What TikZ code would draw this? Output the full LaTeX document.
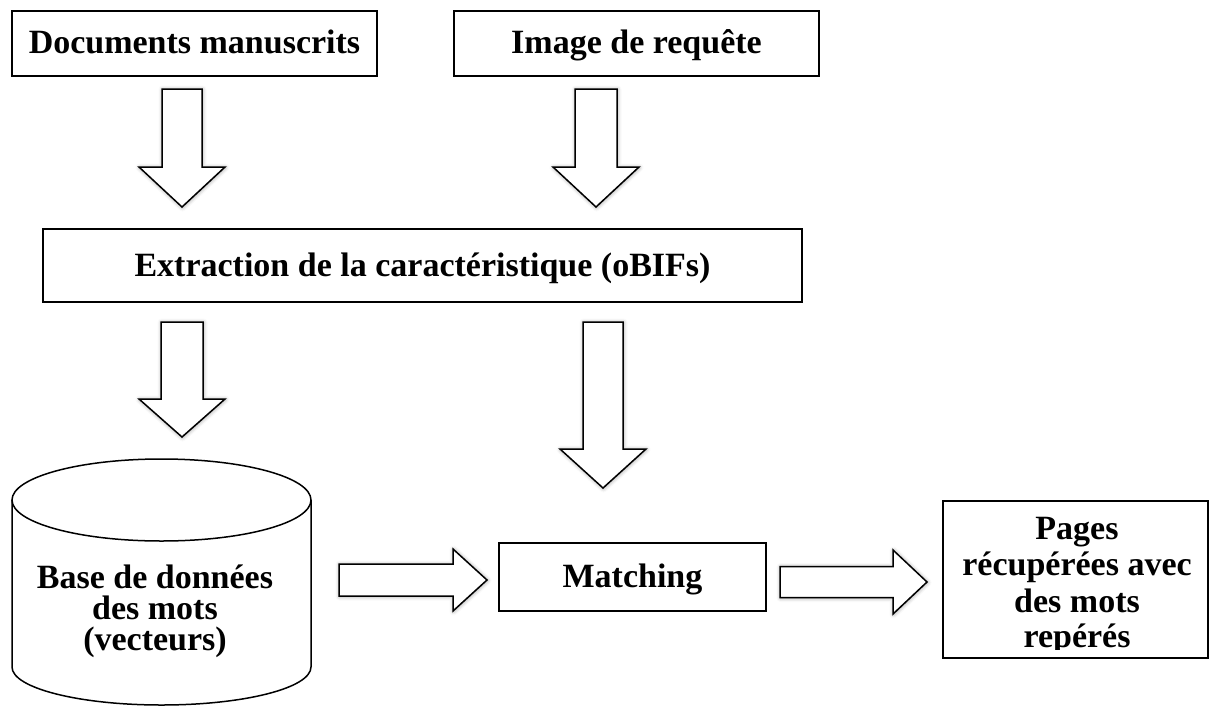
\documentclass[tikz,border=0pt]{standalone}
\usepackage{fontspec}
\setmainfont{Liberation Serif}
\usetikzlibrary{shadows.blur}
\newcommand\DArrow[6]{\draw[barrow] (#1-#5,#2) -- (#1+#5,#2) -- (#1+#5,#3) -- (#1+#6,#3) -- (#1,#4) -- (#1-#6,#3) -- (#1-#5,#3) -- cycle;}
\newcommand\RArrow[6]{\draw[barrow] (#2,#1-#5) -- (#3,#1-#5) -- (#3,#1-#6) -- (#4,#1) -- (#3,#1+#6) -- (#3,#1+#5) -- (#2,#1+#5) -- cycle;}
\begin{document}
\begin{tikzpicture}[x=1pt,y=-1pt,
  txt/.style={font=\fontsize{34}{30}\selectfont\bfseries,inner sep=0pt},
  line/.style={txt,anchor=base,text height=21pt,text depth=5pt},
  box/.style={draw,line width=1.5pt,txt,text height=22pt,text depth=1pt},
  cyl/.style={draw,line width=1.5pt,fill=white},
  barrow/.style={draw,line width=1.5pt,fill=white,line join=miter,
    blur shadow={shadow xshift=0.5pt,shadow yshift=-0.5pt,shadow blur radius=4pt,shadow opacity=40}}]
\useasboundingbox (0,0) rectangle (1209,709);

% boxes
\node[box,minimum width=365pt,minimum height=65pt] (docs) at (194.5,43.5) {Documents manuscrits};
\node[box,minimum width=365pt,minimum height=65pt] (query) at (636.5,43.5) {Image de requête};
\node[box,minimum width=759pt,minimum height=73pt] (extr) at (422.5,265.5) {Extraction de la caractéristique (oBIFs)};
\node[box,minimum width=267pt,minimum height=68pt] (match) at (632.5,577) {Matching};
\node[draw,line width=1.5pt,minimum width=265pt,minimum height=157pt,inner sep=0pt] (pages) at (1075.5,579.5) {};
\node[line] (p1) at (1077,539) {Pages};
\node[line] (p2) at (1077,575) {récupérées avec};
\node[line] (p3) at (1077,612) {des mots};
\begin{scope}
  \clip (940,495) rectangle (1209,649.5);
  \node[line] (p4) at (1077,647) {repérés};
\end{scope}

% cylinder
\draw[cyl] (12,500) -- (12,667) arc[start angle=180,end angle=0,x radius=149.5,y radius=38] -- (311,500);
\draw[cyl] (161.5,500) ellipse[x radius=149.5,y radius=41];
\node[line] (db1) at (155,588) {Base de données};
\node[line] (db2) at (155,619) {des mots};
\node[line] (db3) at (155,650) {(vecteurs)};

% block arrows
\DArrow{182}{89}{167}{207}{20}{43}
\DArrow{596}{89}{167}{207}{21}{43}
\DArrow{182}{322}{399}{437}{21}{43}
\DArrow{603}{322}{449}{488}{20}{43}
\RArrow{580}{339}{453}{487}{16}{31}
\RArrow{582}{780}{893}{927}{15.5}{32}
\end{tikzpicture}
\end{document}
